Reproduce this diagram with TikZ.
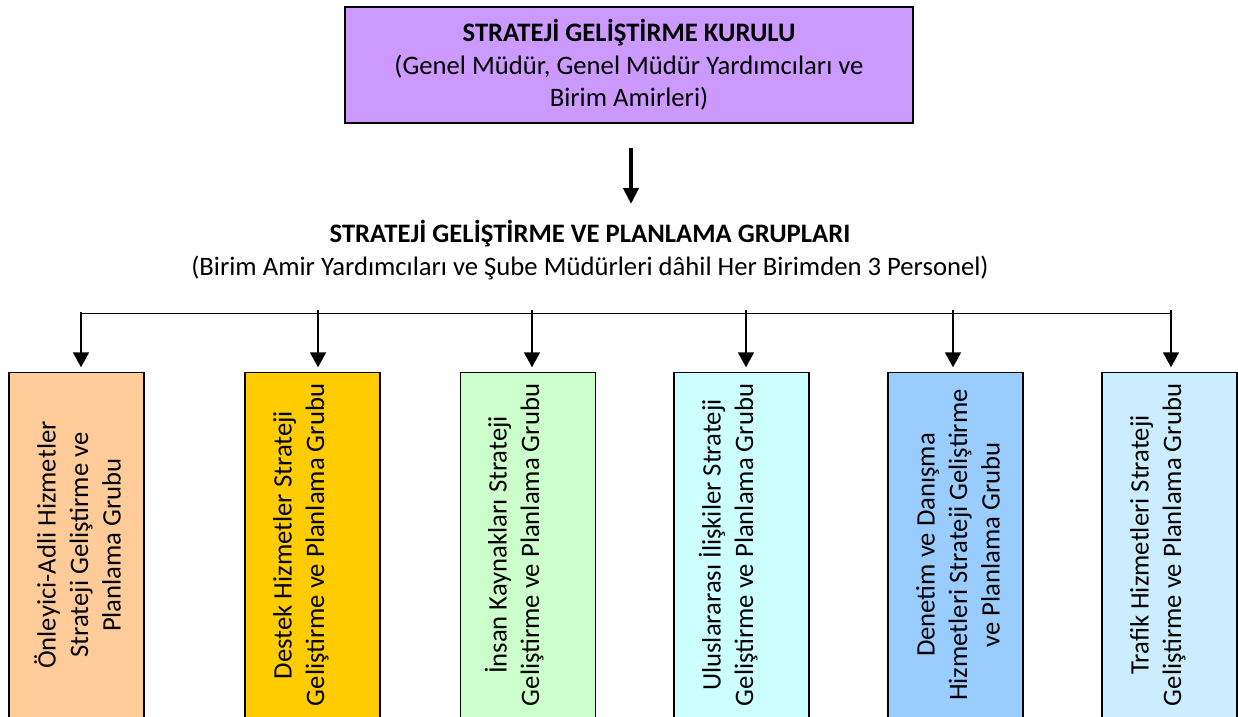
\documentclass[tikz,border=0pt]{standalone}
\usepackage{fontspec}
\setmainfont{Carlito}
\usetikzlibrary{arrows.meta}
\definecolor{cTop}{HTML}{CC99FF}
\definecolor{cA}{HTML}{FFCC99}
\definecolor{cB}{HTML}{FFCC00}
\definecolor{cC}{HTML}{CCFFCC}
\definecolor{cD}{HTML}{CCFFFF}
\definecolor{cE}{HTML}{99CCFF}
\definecolor{cF}{HTML}{CCECFF}
\newcommand\fstrut{\rule{0pt}{25pt}}
\begin{document}
\begin{tikzpicture}[x=1pt,y=-1pt,
  txt/.style={font=\fontsize{26.67pt}{32.5pt}\selectfont, align=center, inner sep=0pt, text=black},
  topbox/.style={txt, draw=black, line width=1.6pt, fill=cTop, minimum width=568pt, minimum height=116pt},
  grpbox/.style={draw=black, line width=1.5pt, minimum width=135pt, minimum height=346pt, inner sep=0pt},
  grptext/.style={txt, rotate=90, anchor=north},
  conn/.style={draw=black, line width=1.8pt},
  arr/.style={conn, -{Triangle[width=16pt,length=15pt]}, shorten >=4.5pt},
  bigarr/.style={draw=black, line width=4pt, -{Triangle[width=15pt,length=16pt]}, shorten <=24pt}
]
\useasboundingbox (0,0) rectangle (1238,716);
\fill[white] (0,0) rectangle (1238,716);

% top box
\node[topbox] (top) at (629,65) {\textbf{STRATEJİ GELİŞTİRME KURULU}\\(Genel Müdür, Genel Müdür Yardımcıları ve\\Birim Amirleri)};

% group title
\node[txt] (groups) at (590,250) {\textbf{STRATEJİ GELİŞTİRME VE PLANLAMA GRUPLARI}\\(Birim Amir Yardımcıları ve Şube Müdürleri dâhil Her Birimden 3 Personel)};

\coordinate (ga) at (631,204);
\draw[bigarr] (top.south -| ga) -- (ga);

% group boxes
\node[grpbox, fill=cA] (b1) at (76.5,545.5) {};
\node[grpbox, fill=cB] (b2) at (312.5,545.5) {};
\node[grpbox, fill=cC] (b3) at (528,545.5) {};
\node[grpbox, fill=cD] (b4) at (741.5,545.5) {};
\node[grpbox, fill=cE] (b5) at (955.5,545.5) {};
\node[grpbox, fill=cF] (b6) at (1169.5,545.5) {};

\node[grptext] (t1) at (30.5,545) {\fstrut Önleyici-Adli Hizmetler\\Strateji Geliştirme ve\\Planlama Grubu};
\node[grptext] (t2) at (266.5,545) {\fstrut Destek Hizmetler Strateji\\Geliştirme ve Planlama Grubu};
\node[grptext] (t3) at (481.5,545) {\fstrut İnsan Kaynakları Strateji\\Geliştirme ve Planlama Grubu};
\node[grptext] (t4) at (695.5,545) {\fstrut Uluslararası İlişkiler Strateji\\Geliştirme ve Planlama Grubu};
\node[grptext] (t5) at (909.5,545) {\fstrut Denetim ve Danışma\\Hizmetleri Strateji Geliştirme\\ve Planlama Grubu};
\node[grptext] (t6) at (1123.5,545) {\fstrut Trafik Hizmetleri Strateji\\Geliştirme ve Planlama Grubu};

% distribution line
\coordinate (hl) at (81,313.5);
\coordinate (hr) at (1172,313.5);
\draw[conn] (hl) -- (hr);
\coordinate (s1) at (81,312);
\coordinate (s2) at (318,310);
\coordinate (s3) at (532,310);
\coordinate (s4) at (746,310);
\coordinate (s5) at (953,310);
\coordinate (s6) at (1171,310);
\draw[arr] (s1) -- (s1 |- b1.north);
\draw[arr] (s2) -- (s2 |- b2.north);
\draw[arr] (s3) -- (s3 |- b3.north);
\draw[arr] (s4) -- (s4 |- b4.north);
\draw[arr] (s5) -- (s5 |- b5.north);
\draw[arr] (s6) -- (s6 |- b6.north);
\end{tikzpicture}
\end{document}
